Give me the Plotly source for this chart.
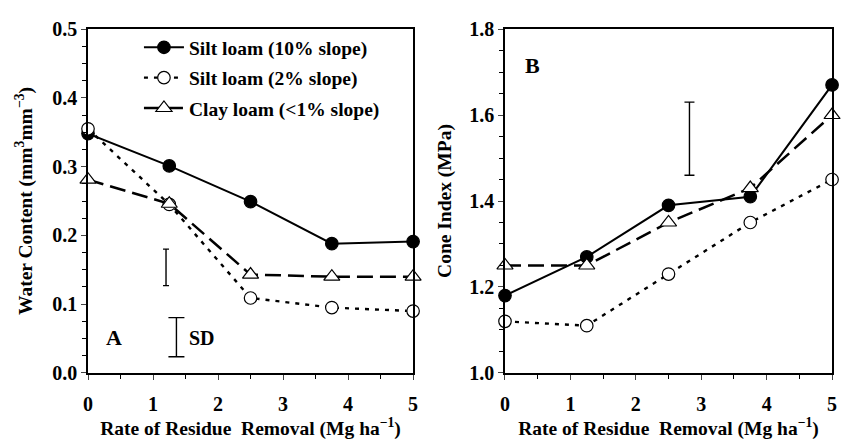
import plotly.graph_objects as go

# Residue removal rates (Mg/ha)
removal = [0, 1.25, 2.5, 3.75, 5]

# Panel A: volumetric water content (mm3 mm-3)
water_silt10 = [0.348, 0.301, 0.249, 0.188, 0.191]
water_silt2 = [0.355, 0.245, 0.109, 0.095, 0.090]
water_clay = [0.281, 0.246, 0.143, 0.140, 0.140]

# Panel B: cone index (MPa)
cone_silt10 = [1.18, 1.27, 1.39, 1.41, 1.67]
cone_silt2 = [1.12, 1.11, 1.23, 1.35, 1.45]
cone_clay = [1.25, 1.25, 1.35, 1.43, 1.60]

series_names = ["Silt loam (10% slope)", "Silt loam (2% slope)", "Clay loam (<1% slope)"]

# Standard-deviation bars: x position, centre, half-length
sd_a_x = [1.2, 1.36]
sd_a_mid = [0.1535, 0.052]
sd_a_half = [0.0265, 0.0285]
sd_b_x = [2.82]
sd_b_mid = [1.545]
sd_b_half = [0.085]

FONT = "Liberation Serif, Times New Roman, serif"
BLACK = "black"

styles = [
    dict(line=dict(color=BLACK, width=2, dash="solid"),
         marker=dict(symbol="circle", size=12.5, color=BLACK, line=dict(color=BLACK, width=1.2))),
    dict(line=dict(color=BLACK, width=2.4, dash="4px,6px"),
         marker=dict(symbol="circle", size=12.5, color="white", line=dict(color=BLACK, width=1.2))),
    dict(line=dict(color=BLACK, width=2.5, dash="16px,7px"),
         marker=dict(symbol="triangle-up", size=14, color="white", line=dict(color=BLACK, width=1.2))),
]

fig = go.Figure()

for panel, (vals, xa, ya) in enumerate([
    ([water_silt10, water_silt2, water_clay], "x", "y"),
    ([cone_silt10, cone_silt2, cone_clay], "x2", "y2"),
]):
    for i, v in enumerate(vals):
        fig.add_trace(go.Scatter(
            x=removal, y=v, mode="lines+markers",
            name="<b>" + series_names[i].replace("<", "&lt;") + "</b>",
            legendgroup=f"g{i}",
            xaxis=xa, yaxis=ya, cliponaxis=False, showlegend=(panel == 0),
            legendrank=i, **styles[i]))

# SD bars
for xs, mids, halves, widths, xa, ya in [
    (sd_a_x, sd_a_mid, sd_a_half, [3, 8], "x", "y"),
    (sd_b_x, sd_b_mid, sd_b_half, [5], "x2", "y2"),
]:
    for xv, m, h, w in zip(xs, mids, halves, widths):
        fig.add_trace(go.Scatter(
            x=[xv], y=[m], mode="markers", marker=dict(size=1, color="rgba(0,0,0,0)"),
            error_y=dict(type="data", array=[h], symmetric=True, color=BLACK,
                         thickness=1.4, width=w),
            xaxis=xa, yaxis=ya, showlegend=False, hoverinfo="skip"))

tickfont = dict(family=FONT, size=20, color=BLACK, weight=700)
titlefont = dict(family=FONT, size=19.5, color=BLACK, weight=700)

common_x = dict(range=[0, 5], dtick=1, tick0=0, ticks="outside", ticklen=5, tickwidth=1.4,
                showline=True, linewidth=1.7, linecolor=BLACK, mirror=True,
                showgrid=False, zeroline=False, tickfont=tickfont, ticklabelstandoff=7,
                minor=dict(dtick=0.5, ticks="outside", ticklen=4, tickwidth=1.3, tickcolor=BLACK),
                title=dict(text="<b>Rate of Residue  Removal (Mg ha<sup>\u22121</sup>)</b>",
                           font=titlefont, standoff=4))
common_y = dict(ticks="outside", ticklen=5, tickwidth=1.4,
                showline=True, linewidth=1.7, linecolor=BLACK, mirror=True,
                showgrid=False, zeroline=False, tickfont=tickfont)

y_dom = [1 - 381 / 440, 1 - 19 / 440]

fig.update_layout(
    width=842, height=440,
    margin=dict(l=0, r=0, t=0, b=0),
    paper_bgcolor="white", plot_bgcolor="white",
    font=dict(family=FONT, color=BLACK),
    xaxis=dict(domain=[84 / 842, 413 / 842], anchor="y", **common_x),
    yaxis=dict(domain=y_dom, anchor="x", range=[0, 0.5], dtick=0.1, tickformat=".1f",
               minor=dict(dtick=0.025, ticks="outside", ticklen=4, tickwidth=1.3, tickcolor=BLACK),
               title=dict(text="<b>Water Content (mm<sup>3</sup>mm<sup>\u22123</sup>)</b>",
                          font=titlefont, standoff=14),
               **common_y),
    xaxis2=dict(domain=[506 / 842, 837 / 842], anchor="y2", **common_x),
    yaxis2=dict(domain=y_dom, anchor="x2", range=[1.0, 1.8], dtick=0.2, tickformat=".1f",
                minor=dict(dtick=0.05, ticks="outside", ticklen=4, tickwidth=1.3, tickcolor=BLACK),
                title=dict(text="<b>Cone Index (MPa)</b>", font=titlefont, standoff=12),
                **common_y),
    legend=dict(x=0.161, y=1 - 18 / 440, xanchor="left", yanchor="top",
                bgcolor="rgba(0,0,0,0)", borderwidth=0,
                font=dict(family=FONT, size=19.5, color=BLACK, weight=700),
                itemwidth=40, tracegroupgap=2),
    annotations=[
        dict(text="<b>A</b>", x=0.40, y=0.051, xref="x", yref="y", showarrow=False,
             font=dict(family=FONT, size=22, color=BLACK)),
        dict(text="<b>SD</b>", x=1.75, y=0.051, xref="x", yref="y", showarrow=False,
             font=dict(family=FONT, size=20, color=BLACK)),
        dict(text="<b>B</b>", x=0.42, y=1.716, xref="x2", yref="y2", showarrow=False,
             font=dict(family=FONT, size=22, color=BLACK)),
    ],
)

fig.write_html("out.html")
